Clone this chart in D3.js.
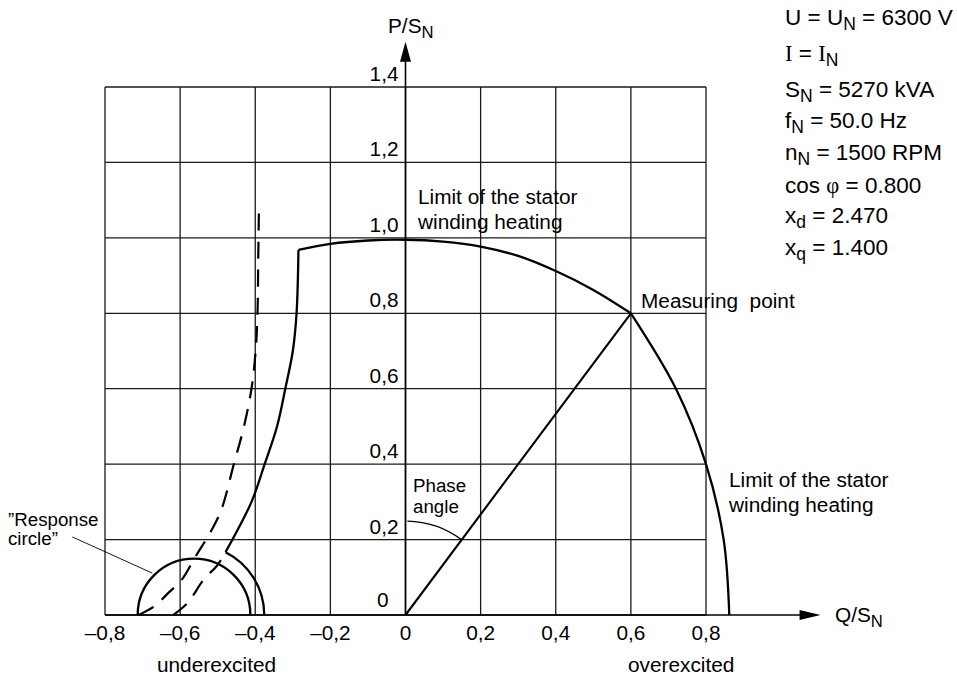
<!DOCTYPE html>
<html>
<head>
<meta charset="utf-8">
<script src="https://cdn.jsdelivr.net/npm/d3@7"></script>
<style>
  html, body { margin: 0; padding: 0; background: #fff; }
  svg { display: block; }
  text { font-family: "Liberation Sans", Arial, Helvetica, sans-serif; fill: #000; }
</style>
</head>
<body>
<svg id="chart" width="957" height="679"></svg>
<script>
// ---- axis ticks ----
const xTicks = [-0.8, -0.6, -0.4, -0.2, 0, 0.2, 0.4, 0.6, 0.8];
const xTickLabels = ["–0,8", "–0,6", "–0,4", "–0,2", "0", "0,2", "0,4", "0,6", "0,8"];
const yTicks = [0, 0.2, 0.4, 0.6, 0.8, 1.0, 1.2, 1.4];
const yTickLabels = ["0", "0,2", "0,4", "0,6", "0,8", "1,0", "1,2", "1,4"];

// ---- capability limits, [Q/SN, P/SN] ----
const statorLimitTop = [[-0.285, 0.968], [-0.2, 0.984], [-0.1, 0.993], [0, 0.995], [0.1, 0.99],
  [0.2, 0.977], [0.3, 0.952], [0.4, 0.912], [0.5, 0.862], [0.6, 0.8]];
const statorLimitRight = [[0.6, 0.8], [0.72, 0.6], [0.8, 0.4], [0.847, 0.2], [0.862, 0]];
const stabilityLimit = [[-0.285, 0.968], [-0.29, 0.8], [-0.3, 0.7], [-0.32, 0.6], [-0.342, 0.5],
  [-0.375, 0.4], [-0.41, 0.3], [-0.479, 0.167]];
const dashedLimitUpper = [[-0.711, 0], [-0.666, 0.025], [-0.634, 0.056], [-0.596, 0.093],
  [-0.559, 0.155], [-0.519, 0.22], [-0.49, 0.28], [-0.457, 0.4], [-0.43, 0.5], [-0.41, 0.6],
  [-0.399, 0.7], [-0.394, 0.8], [-0.392, 0.95], [-0.39, 1.09]];
const dashedLimitLower = [[-0.618, 0], [-0.58, 0.032], [-0.538, 0.093], [-0.5, 0.133], [-0.479, 0.167]];

// circles: [centre Q, centre P, radius]
const responseCircle = [-0.563, 0, 0.15];
const excitationArcCentre = [-0.563, 0];
const measuringPoint = [0.6, 0.8];
const phaseArcRadius = 0.25;
const responseLeader = [[-0.887, 0.207], [-0.674, 0.111]];

// ---- machine data ----
const ratingLines = [
  [["U = U"], ["N", "sub"], [" = 6300 V"]],
  [["I", "serif"], [" = "], ["I", "serif"], ["N", "sub"]],
  [["S"], ["N", "sub"], [" = 5270 kVA"]],
  [["f"], ["N", "sub"], [" = 50.0 Hz"]],
  [["n"], ["N", "sub"], [" = 1500 RPM"]],
  [["cos "], ["φ", "serif"], [" = 0.800"]],
  [["x"], ["d", "sub"], [" = 2.470"]],
  [["x"], ["q", "sub"], [" = 1.400"]]
];
const ratingBaselines = [25, 61, 97, 128, 160, 193, 223, 255];

// ---- layout ----
const svg = d3.select("#chart");
const x = d3.scaleLinear().domain([-0.8, 0.8]).range([105, 706]);
const y = d3.scaleLinear().domain([0, 1.4]).range([615, 87]);
const xAxisEnd = 1.105;   // arrow tip of the Q axis
const yAxisEnd = 1.52;    // arrow tip of the P axis
const labelFont = 20, stretch = 1.04;

// text helper: horizontally stretched label with optional subscript segments
function label(g, px, py, parts, size, opts = {}) {
  const t = g.append("text")
    .attr("transform", `translate(${px},${py}) scale(${opts.sx || stretch},1)`)
    .attr("font-size", size)
    .attr("text-anchor", opts.anchor || "start")
    .style("white-space", "pre");
  let lowered = false;
  parts.forEach(([s, kind]) => {
    const sp = t.append("tspan").text(s);
    if (kind === "sub") {
      sp.attr("font-size", opts.sub || size * 0.8).attr("dy", opts.subDy || 5);
      lowered = true;
    } else {
      if (lowered) { sp.attr("dy", -(opts.subDy || 5)); lowered = false; }
      if (kind === "serif") sp.style("font-family", "'Liberation Serif', 'Times New Roman', serif");
    }
  });
  return t;
}

// ---- grid ----
const grid = svg.append("g").attr("stroke", "#1a1a1a").attr("stroke-width", 1.3);
grid.selectAll("line.v").data(xTicks).join("line")
  .attr("x1", d => x(d)).attr("x2", d => x(d))
  .attr("y1", y(0)).attr("y2", y(1.4));
grid.selectAll("line.h").data(yTicks).join("line")
  .attr("x1", x(-0.8)).attr("x2", x(0.8))
  .attr("y1", d => y(d)).attr("y2", d => y(d));

// ---- axes with arrows ----
const axes = svg.append("g");
axes.append("line").attr("x1", x(-0.8)).attr("x2", x(xAxisEnd) - 18)
  .attr("y1", y(0)).attr("y2", y(0)).attr("stroke", "#000").attr("stroke-width", 1.6);
axes.append("line").attr("x1", x(0)).attr("x2", x(0))
  .attr("y1", y(0)).attr("y2", y(yAxisEnd) + 18).attr("stroke", "#000").attr("stroke-width", 1.6);
axes.append("path")
  .attr("d", `M${x(xAxisEnd)},${y(0)} L${x(xAxisEnd) - 21},${y(0) - 5} L${x(xAxisEnd) - 21},${y(0) + 5} Z`)
  .attr("fill", "#000");
axes.append("path")
  .attr("d", `M${x(0)},${y(yAxisEnd)} L${x(0) - 5.5},${y(yAxisEnd) + 20} L${x(0) + 5.5},${y(yAxisEnd) + 20} Z`)
  .attr("fill", "#000");

label(svg, 388, 33, [["P/S"], ["N", "sub"]], labelFont, { sub: 16 });
label(svg, 835, 622, [["Q/S"], ["N", "sub"]], labelFont, { sub: 16 });

// tick labels
const tl = svg.append("g");
xTicks.forEach((v, i) => label(tl, x(v), 640, [[xTickLabels[i]]], labelFont, { anchor: "middle" }));
yTicks.forEach((v, i) => {
  if (v === 0) label(tl, x(0) - 17, y(0) - 8, [[yTickLabels[i]]], labelFont, { anchor: "end" });
  else label(tl, x(0) - 7, y(v) - 6, [[yTickLabels[i]]], labelFont, { anchor: "end" });
});

// ---- curves ----
const line = d3.line().x(d => x(d[0])).y(d => y(d[1])).curve(d3.curveCatmullRom.alpha(0.5));
const straight = d3.line().x(d => x(d[0])).y(d => y(d[1]));
const curves = svg.append("g").attr("fill", "none").attr("stroke", "#000")
  .attr("stroke-linejoin", "round").attr("stroke-linecap", "butt");

curves.append("path").attr("d", line(statorLimitTop)).attr("stroke-width", 2.3);
curves.append("path").attr("d", line(statorLimitRight)).attr("stroke-width", 2.3);
curves.append("path").attr("d", line(stabilityLimit)).attr("stroke-width", 2.3);
curves.append("path").attr("d", line(dashedLimitUpper)).attr("stroke-width", 2.2)
  .attr("stroke-dasharray", "17,11");
curves.append("path").attr("d", line(dashedLimitLower)).attr("stroke-width", 2.2)
  .attr("stroke-dasharray", "17,11");

const pxPerUnit = x(1) - x(0);
// response circle (upper half)
{
  const [cq, cp, r] = responseCircle;
  const p = d3.path();
  p.arc(x(cq), y(cp), r * pxPerUnit, Math.PI, 2 * Math.PI, false);
  curves.append("path").attr("d", p.toString()).attr("stroke-width", 2.3);
}
// excitation arc from the Q axis up to the end of the stability limit
{
  const [cq, cp] = excitationArcCentre;
  const end = stabilityLimit[stabilityLimit.length - 1];
  const r = Math.hypot(end[0] - cq, end[1] - cp);
  const a1 = -Math.atan2(end[1] - cp, end[0] - cq);
  const p = d3.path();
  p.arc(x(cq), y(cp), r * pxPerUnit, 0, a1, true);
  curves.append("path").attr("d", p.toString()).attr("stroke-width", 2.3);
}
// operating vector to the measuring point
curves.append("path").attr("d", straight([[0, 0], measuringPoint])).attr("stroke-width", 2.1);
// phase angle arc
{
  const p = d3.path();
  const a1 = -Math.atan2(measuringPoint[1], measuringPoint[0]);
  p.arc(x(0), y(0), phaseArcRadius * pxPerUnit, -Math.PI / 2 + 0.02, a1, false);
  curves.append("path").attr("d", p.toString()).attr("stroke-width", 1.4);
}
// leader to the response circle
curves.append("path").attr("d", straight(responseLeader)).attr("stroke-width", 0.9);

// ---- annotations ----
const notes = svg.append("g");
label(notes, 418, 204, [["Limit of the stator"]], labelFont);
label(notes, 418, 229, [["winding heating"]], labelFont);
label(notes, 729, 487, [["Limit of the stator"]], labelFont);
label(notes, 729, 512, [["winding heating"]], labelFont);
label(notes, 641, 308, [["Measuring  point"]], labelFont);
label(notes, 413, 492, [["Phase"]], 18);
label(notes, 413, 513, [["angle"]], 18);
label(notes, 8, 526, [["\u201DResponse"]], 18);
label(notes, 8, 545, [["circle\u201D"]], 18);
label(notes, 157, 672, [["underexcited"]], labelFont);
label(notes, 628, 672, [["overexcited"]], labelFont);

// ---- machine data block ----
const block = svg.append("g");
ratingLines.forEach((parts, i) =>
  label(block, 785, ratingBaselines[i], parts, 22.5, { sx: 1, sub: 17.5, subDy: 5 }));
</script>
</body>
</html>
